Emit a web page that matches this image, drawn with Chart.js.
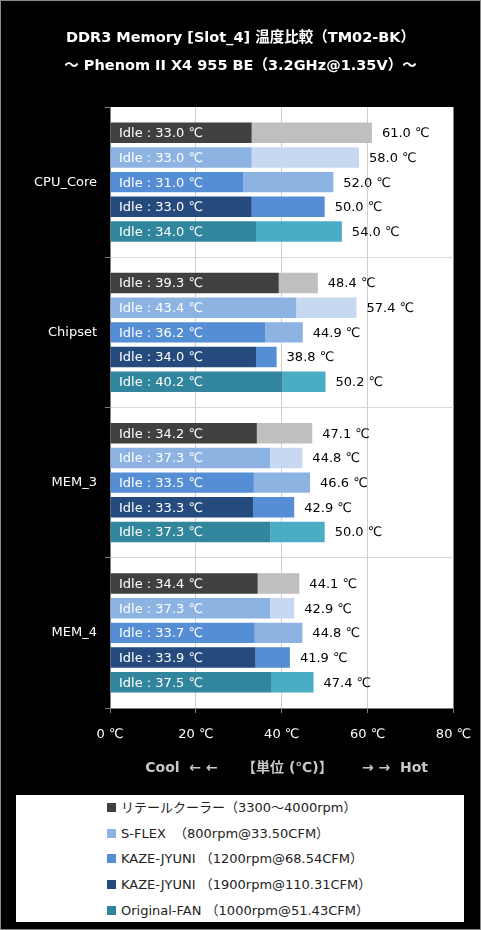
<!DOCTYPE html>
<html>
<head>
<meta charset="utf-8">
<script src="https://cdn.jsdelivr.net/npm/chart.js@4"></script>
<style>
  body { margin: 0; background: #000; }
  .page { position: relative; width: 481px; height: 930px; background: #000; overflow: hidden; }
  .frame { position: absolute; left: 0; top: 0; width: 479px; height: 928px; border: 1px solid #8a8a8a; pointer-events: none; }
  .chart-box { position: absolute; left: 0; top: 0; width: 481px; height: 790px; }
  .legend { position: absolute; left: 16px; top: 795px; width: 448px; height: 127px; background: #fff; }
  .legend__item { position: absolute; left: 91px; height: 20px; line-height: 20px; font: 13px "DejaVu Sans", "Noto Sans CJK JP", sans-serif; color: #222; white-space: pre; }
  .legend__box { display: inline-block; width: 9px; height: 9px; margin-right: 5px; }
</style>
</head>
<body>
<div class="page">
  <div class="chart-box"><canvas id="tempChart"></canvas></div>
  <div class="legend" id="legend"></div>
  <div class="frame"></div>
</div>
<script>
const categories = ["CPU_Core", "Chipset", "MEM_3", "MEM_4"];
const fanNames = [
  "リテールクーラー（3300～4000rpm）",
  "S-FLEX  （800rpm@33.50CFM）",
  "KAZE-JYUNI （1200rpm@68.54CFM）",
  "KAZE-JYUNI （1900rpm@110.31CFM）",
  "Original-FAN （1000rpm@51.43CFM）",
];
// idle / load temperature per fan, in category order
const idleRetail = [33.0, 39.3, 34.2, 34.4];
const loadRetail = [61.0, 48.4, 47.1, 44.1];
const idleSflex = [33.0, 43.4, 37.3, 37.3];
const loadSflex = [58.0, 57.4, 44.8, 42.9];
const idleKaze1200 = [31.0, 36.2, 33.5, 33.7];
const loadKaze1200 = [52.0, 44.9, 46.6, 44.8];
const idleKaze1900 = [33.0, 34.0, 33.3, 33.9];
const loadKaze1900 = [50.0, 38.8, 42.9, 41.9];
const idleOriginal = [34.0, 40.2, 37.3, 37.5];
const loadOriginal = [54.0, 50.2, 50.0, 47.4];
const xTicks = [0, 20, 40, 60, 80];

const idleSets = [idleRetail, idleSflex, idleKaze1200, idleKaze1900, idleOriginal];
const loadSets = [loadRetail, loadSflex, loadKaze1200, loadKaze1900, loadOriginal];
const idleColors = ["#404040", "#8db3e2", "#558ed5", "#254a7d", "#31859c"];
const loadColors = ["#bfbfbf", "#c6d9f1", "#8db3e2", "#558ed5", "#4bacc6"];

const FONT = '"DejaVu Sans", "Noto Sans CJK JP", sans-serif';

const datasets = [];
idleSets.forEach((idle, f) => {
  datasets.push({
    label: fanNames[f],
    data: idle,
    backgroundColor: idleColors[f],
    stack: "fan" + f,
    kind: "idle",
  });
  datasets.push({
    label: fanNames[f] + " load",
    data: idle.map((v, i) => [v, loadSets[f][i]]),
    backgroundColor: loadColors[f],
    stack: "fan" + f,
    kind: "load",
  });
});

// white plot area on the black page
const plotBackground = {
  id: "plotBackground",
  beforeDraw(chart) {
    const { ctx, chartArea } = chart;
    ctx.save();
    ctx.fillStyle = "#fff";
    ctx.fillRect(chartArea.left, chartArea.top, chartArea.right - chartArea.left, chartArea.bottom - chartArea.top);
    ctx.restore();
  },
};

// "Idle : xx ℃" inside the dark bar, load value right of the bar end
const barLabels = {
  id: "barLabels",
  afterDatasetsDraw(chart) {
    const { ctx, chartArea } = chart;
    ctx.save();
    ctx.font = "13px " + FONT;
    ctx.textBaseline = "middle";
    ctx.textAlign = "left";
    chart.data.datasets.forEach((ds, d) => {
      const meta = chart.getDatasetMeta(d);
      meta.data.forEach((bar, i) => {
        if (ds.kind === "idle") {
          ctx.fillStyle = "#fff";
          ctx.fillText("Idle : " + ds.data[i].toFixed(1) + " ℃", chartArea.left + 9, bar.y + 1);
        } else {
          ctx.fillStyle = "#000";
          ctx.fillText(ds.data[i][1].toFixed(1) + " ℃", bar.x + 10, bar.y + 1);
        }
      });
    });
    ctx.restore();
  },
};

const tempChart = new Chart(document.getElementById("tempChart"), {
  type: "bar",
  data: { labels: categories, datasets: datasets },
  plugins: [plotBackground, barLabels],
  options: {
    indexAxis: "y",
    responsive: true,
    maintainAspectRatio: false,
    animation: false,
    categoryPercentage: 0.82,
    barPercentage: 0.83,
    layout: { padding: 0 },
    plugins: {
      legend: { display: false },
      tooltip: { enabled: false },
      title: {
        display: true,
        text: ["DDR3 Memory [Slot_4] 温度比較（TM02-BK）", "～ Phenom II X4 955 BE（3.2GHz@1.35V）～"],
        color: "#fff",
        font: { family: FONT, size: 14.5, weight: "bold", lineHeight: 27.5 / 14.5 },
        padding: { top: 24.5, bottom: 27.5 },
      },
    },
    scales: {
      y: {
        stacked: true,
        afterFit(scale) { scale.width = 110; },
        border: { color: "#808080" },
        grid: {
          offset: true,
          color: (c) => (c.index === undefined || c.index === 0 ? "rgba(0,0,0,0)" : "#d9d9d9"),
          tickColor: "#808080",
          tickLength: 5,
        },
        ticks: { color: "#fff", font: { family: FONT, size: 13 }, padding: 8 },
      },
      x: {
        stacked: false,
        min: 0,
        max: 80,
        afterFit(scale) {
          scale.height = 82;
          scale.paddingLeft = 0;
          scale.paddingRight = 27.5;
        },
        afterBuildTicks(scale) { scale.ticks = xTicks.map((v) => ({ value: v })); },
        border: { color: "#808080" },
        grid: {
          color: (c) => (c.index === 0 || c.index === xTicks.length - 1 ? "rgba(0,0,0,0)" : "#cfcfcf"),
          borderDash: [2, 2],
          tickColor: "#808080",
          tickLength: 5,
        },
        ticks: {
          color: "#fff",
          font: { family: FONT, size: 13 },
          padding: 14,
          maxRotation: 0,
          callback: (v) => v + " ℃",
        },
        title: {
          display: true,
          text: "  Cool  ← ←     【単位 (℃)】      → →  Hot",
          color: "#c8c8c8",
          font: { family: FONT, size: 14, weight: "bold" },
          padding: { top: 0, bottom: 13.6 },
        },
      },
    },
  },
});

// legend below the chart, one fan per row
const legendEl = document.getElementById("legend");
fanNames.forEach((name, f) => {
  const item = document.createElement("div");
  item.className = "legend__item";
  item.style.top = 2 + f * 25.7 + "px";
  item.innerHTML = `<span class="legend__box" style="background:${idleColors[f]}"></span>${name}`;
  legendEl.appendChild(item);
});
</script>
</body>
</html>
